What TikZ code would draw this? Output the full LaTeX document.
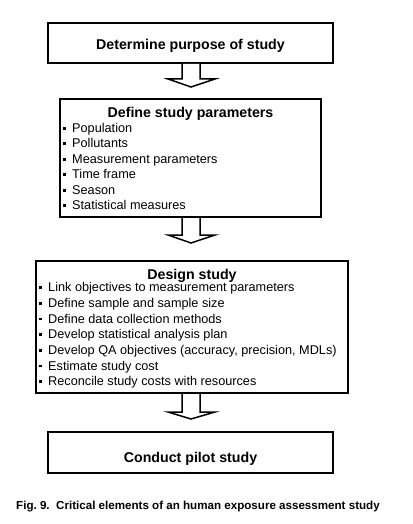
\documentclass[tikz,border=0pt]{standalone}
\usepackage{fontspec}
\setmainfont{Liberation Sans}
\usetikzlibrary{calc, positioning}
\newcommand{\sqb}{\rule[2.6bp]{2.9bp}{2.9bp}\hspace{6.1bp}}

\tikzset{
    stagebox/.style={draw, line width=2bp, inner sep=0pt},
    stagetitle/.style={font=\fontsize{14.2bp}{17bp}\selectfont\bfseries, anchor=base, inner sep=0pt},
    listitem/.style={font=\fontsize{12.7bp}{15bp}\selectfont, anchor=base west, inner sep=0pt},
    blockarrow/.style={line width=1.5bp, line join=miter, fill=white},
}

\begin{document}
\begin{tikzpicture}[x=1bp, y=-1bp]
    \useasboundingbox (0,0) rectangle (412,524);

    % Boxes
    \node[stagebox, minimum width=285bp, minimum height=40bp] (purpose) at (190.5,43) {};
    \node[stagetitle] (purposetext) at (190.5,49.5) {Determine purpose of study};

    \node[stagebox, minimum width=261bp, minimum height=118bp] (params) at (190.5,158) {};
    \node[stagetitle] (paramstitle) at ($(params.north)+(0,20)$) {Define study parameters};
    \node[listitem] (p1) at ($(params.north west)+(4,34.3)$) {\sqb Population};
    \node[listitem] (p2) at ($(params.north west)+(4,49.8)$) {\sqb Pollutants};
    \node[listitem] (p3) at ($(params.north west)+(4,65.3)$) {\sqb Measurement parameters};
    \node[listitem] (p4) at ($(params.north west)+(4,80.8)$) {\sqb Time frame};
    \node[listitem] (p5) at ($(params.north west)+(4,96.3)$) {\sqb Season};
    \node[listitem] (p6) at ($(params.north west)+(4,111.8)$) {\sqb Statistical measures};

    \node[stagebox, minimum width=312bp, minimum height=132bp] (design) at (192,327) {};
    \node[stagetitle] (designtitle) at ($(design.north)+(0,19.5)$) {Design study};
    \node[listitem] (d1) at ($(design.north west)+(4,31.7)$) {\sqb Link objectives to measurement parameters};
    \node[listitem] (d2) at ($(design.north west)+(4,47.4)$) {\sqb Define sample and sample size};
    \node[listitem] (d3) at ($(design.north west)+(4,63.0)$) {\sqb Define data collection methods};
    \node[listitem] (d4) at ($(design.north west)+(4,78.7)$) {\sqb Develop statistical analysis plan};
    \node[listitem] (d5) at ($(design.north west)+(4,94.4)$) {\sqb Develop QA objectives (accuracy, precision, MDLs)};
    \node[listitem] (d6) at ($(design.north west)+(4,110.0)$) {\sqb Estimate study cost};
    \node[listitem] (d7) at ($(design.north west)+(4,125.7)$) {\sqb Reconcile study costs with resources};

    \node[stagebox, minimum width=285bp, minimum height=41bp] (pilot) at (190.5,452.5) {};
    \node[stagetitle] (pilottext) at (190.5,462) {Conduct pilot study};

    % Block arrows
    \coordinate (tip1) at ($(params.north)+(0.5,-11)$);
    \draw[blockarrow] ($(purpose.south)+(-8.5,0)$) -- ($(tip1)+(-9,-8)$) -- ($(tip1)+(-23,-8)$) -- (tip1)
        -- ($(tip1)+(24,-8)$) -- ($(tip1)+(9,-8)$) -- ($(purpose.south)+(9.5,0)$);

    \coordinate (tip2) at ($(design.north)+(-1,-17)$);
    \draw[blockarrow] ($(params.south)+(-8.5,0)$) -- ($(tip2)+(-9,-8)$) -- ($(tip2)+(-23,-8)$) -- (tip2)
        -- ($(tip2)+(24,-8)$) -- ($(tip2)+(9,-8)$) -- ($(params.south)+(9.5,0)$);

    \coordinate (tip3) at ($(pilot.north)+(0.5,-12)$);
    \draw[blockarrow] ($(design.south)+(-10,0)$) -- ($(tip3)+(-9,-7)$) -- ($(tip3)+(-23,-7)$) -- (tip3)
        -- ($(tip3)+(24,-7)$) -- ($(tip3)+(9,-7)$) -- ($(design.south)+(8,0)$);

    % Caption
    \node[font=\fontsize{11.6bp}{14bp}\selectfont\bfseries, anchor=base west, inner sep=0pt] (caption) at (16,509)
        {Fig.~9.\ \ Critical elements of an human exposure assessment study};
\end{tikzpicture}
\end{document}
